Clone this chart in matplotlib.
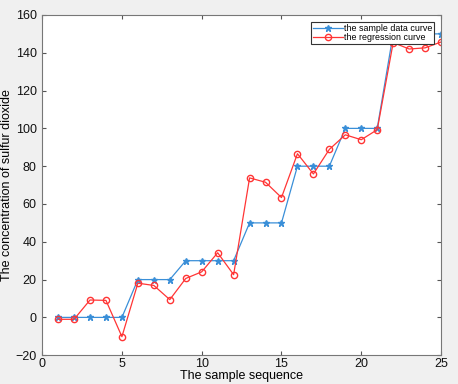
import matplotlib
matplotlib.use('Agg')
from matplotlib import pyplot as plt

# sample index and the two curves
seq = list(range(1, 26))
sample = [0, 0, 0, 0, 0, 20, 20, 20, 30, 30, 30, 30, 50, 50, 50,
          80, 80, 80, 100, 100, 100, 150, 150, 150, 150]
regression = [-1, -1, 9.2, 9, -10.2, 18.1, 16.9, 9.4, 20.6, 24.1, 34.2, 22.6,
              73.8, 71.5, 63.4, 86.6, 75.9, 88.9, 96.6, 94, 99.3,
              145.4, 142, 142.6, 145.7]

xticks = [0, 5, 10, 15, 20, 25]
yticks = list(range(-20, 161, 20))

plt.rcParams['font.family'] = ['Liberation Sans', 'DejaVu Sans']

fig = plt.figure(figsize=(4.58, 3.84), dpi=100, facecolor='#f0f0f0')
ax = fig.add_axes([0.092, 0.075, 0.871, 0.886])

ax.plot(seq, sample, color='#3a8fd8', marker='*', markersize=4.5, linewidth=0.9,
        label='the sample data curve')
ax.plot(seq, regression, color='#ff3535', marker='o', markersize=4.5,
        markerfacecolor='none', linewidth=0.9, label='the regression curve')

ax.set_xlim(0, 25)
ax.set_ylim(-20, 160)
ax.set_xticks(xticks)
ax.set_yticks(yticks)
ax.tick_params(direction='in', top=True, right=True, labelsize=9,
               length=3, color='#555555', labelcolor='#111111')
ax.tick_params(axis='x', pad=2)
ax.tick_params(axis='y', pad=4)
for s in ax.spines.values():
    s.set_color('#777777')
    s.set_linewidth(0.8)

ax.set_xlabel('The sample sequence', fontsize=9, labelpad=0)
ax.set_ylabel('The concentration of sulfur dioxide', fontsize=9, labelpad=2)

leg = ax.legend(loc='upper right', bbox_to_anchor=(0.982, 0.979), fontsize=6.4,
                fancybox=False, framealpha=1, edgecolor='#333333',
                borderpad=0.2, labelspacing=0.05, handlelength=3.4,
                handletextpad=0.1, borderaxespad=0)
leg.get_frame().set_linewidth(0.8)

fig.savefig('out.png', dpi=100, facecolor=fig.get_facecolor())
